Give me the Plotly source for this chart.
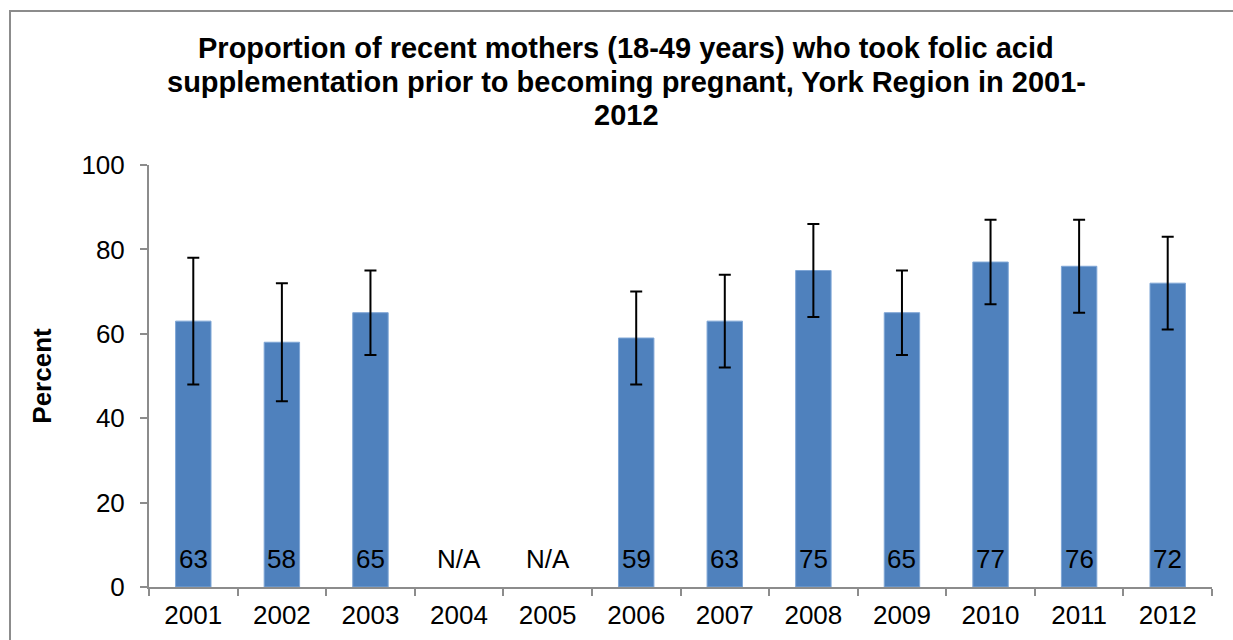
import plotly.graph_objects as go

years = ["2001", "2002", "2003", "2004", "2005", "2006", "2007", "2008", "2009", "2010", "2011", "2012"]
values = [63, 58, 65, None, None, 59, 63, 75, 65, 77, 76, 72]
upper = [78, 72, 75, None, None, 70, 74, 86, 75, 87, 87, 83]
lower = [48, 44, 55, None, None, 48, 52, 64, 55, 67, 65, 61]
labels = ["63", "58", "65", "N/A", "N/A", "59", "63", "75", "65", "77", "76", "72"]
title_lines = [
    "Proportion of recent mothers (18-49 years) who took folic acid",
    "supplementation prior to becoming pregnant, York Region in 2001-",
    "2012",
]

err_plus = [u - v if v is not None else None for u, v in zip(upper, values)]
err_minus = [v - l if v is not None else None for l, v in zip(lower, values)]

FONT = "Liberation Sans, Arial"
PLOT_L, PLOT_R, PLOT_T, PLOT_B = 149, 1212, 165, 587
PW, PH = PLOT_R - PLOT_L, PLOT_B - PLOT_T

fig = go.Figure()
fig.add_trace(go.Bar(
    x=years, y=values, width=0.4,
    marker=dict(color="#4F81BD", line=dict(color="#7FA6D6", width=1)),
    error_y=dict(type="data", symmetric=False, array=err_plus, arrayminus=err_minus,
                 color="black", thickness=2, width=6),
    showlegend=False, hoverinfo="x+y",
))

# data labels at the base of each bar (x given as category index)
for i, lab in enumerate(labels):
    fig.add_annotation(x=i, y=0, xref="x", yref="y", text=lab, showarrow=False,
                       yanchor="bottom", yshift=11,
                       font=dict(family=FONT, size=26, color="black"))

for line, ypix in zip(title_lines, [48, 82, 115]):
    fig.add_annotation(x=(626 - PLOT_L) / PW, y=(PLOT_B - ypix) / PH, xref="paper", yref="paper",
                       text="<b>" + line + "</b>", showarrow=False,
                       xanchor="center", yanchor="middle",
                       font=dict(family=FONT, size=29, color="black"))

fig.add_shape(type="rect", xref="paper", yref="paper",
              x0=(10 - PLOT_L) / PW, x1=1.2, y0=-0.3, y1=(PLOT_B - 11) / PH,
              line=dict(color="#8C8C8C", width=2), fillcolor="rgba(0,0,0,0)", layer="below")

fig.update_layout(
    width=1233, height=640,
    margin=dict(l=PLOT_L, r=1233 - PLOT_R, t=PLOT_T, b=640 - PLOT_B, autoexpand=False),
    paper_bgcolor="white", plot_bgcolor="white",
    font=dict(family=FONT, size=26, color="black"),
    xaxis=dict(
        type="category", range=[-0.5, len(years) - 0.5], autorange=False,
        showgrid=False, showline=True, linecolor="#8C8C8C", linewidth=2,
        ticks="outside", tickson="boundaries", ticklen=7, tickcolor="#8C8C8C", tickwidth=2,
        tickangle=0, ticklabelstandoff=4,
        tickfont=dict(size=26, color="black"),
    ),
    yaxis=dict(
        range=[0, 100], dtick=20, showgrid=False, zeroline=False,
        showline=True, linecolor="#8C8C8C", linewidth=2,
        ticks="outside", ticklen=7, tickcolor="#8C8C8C", tickwidth=2,
        ticklabelstandoff=10,
        tickfont=dict(size=26, color="black"),
        title=dict(text="<b>Percent</b>", font=dict(size=26, color="black"), standoff=22),
    ),
)

fig.write_html("out.html", config={"displayModeBar": False},
               post_script="document.body.style.margin='0';document.body.style.overflow='hidden';")
